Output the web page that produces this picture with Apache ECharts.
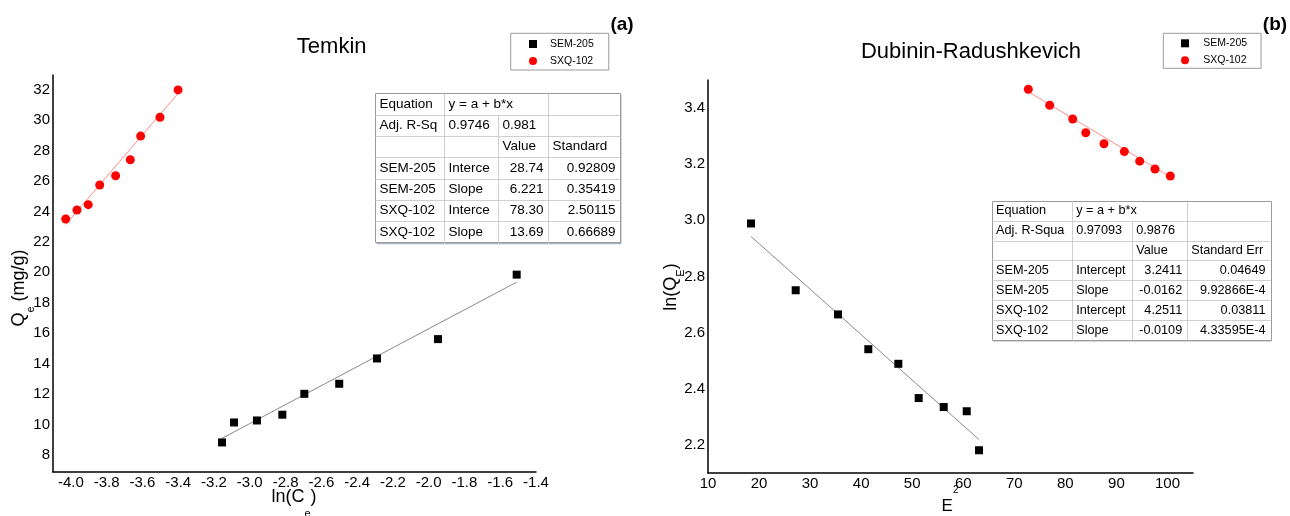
<!DOCTYPE html>
<html>
<head>
<meta charset="utf-8">
<script src="https://cdn.jsdelivr.net/npm/echarts@6/dist/echarts.min.js"></script>
<style>
  html, body { margin: 0; padding: 0; background: #fff; }
  #chart { width: 1290px; height: 516px; }
</style>
</head>
<body>
<div id="chart"></div>
<script>
// ---- Temkin isotherm: Qe (mg/g) against ln(Ce) ----
const temkinSemX = [-3.155, -3.088, -2.960, -2.818, -2.695, -2.500, -2.289, -1.948, -1.508];
const temkinSemY = [8.84, 10.15, 10.28, 10.66, 12.03, 12.69, 14.35, 15.62, 19.85];
const temkinSxqX = [-4.029, -3.966, -3.903, -3.839, -3.750, -3.668, -3.610, -3.502, -3.401];
const temkinSxqY = [23.50, 24.09, 24.44, 25.73, 26.34, 27.39, 28.94, 30.18, 31.97];

// ---- Dubinin-Radushkevich isotherm: ln(QE) against E^2 ----
const drSemX = [18.42, 27.18, 35.47, 41.40, 47.28, 51.27, 56.17, 60.68, 63.08];
const drSemY = [2.989, 2.751, 2.665, 2.541, 2.489, 2.367, 2.335, 2.320, 2.181];
const drSxqX = [72.74, 76.93, 81.44, 83.99, 87.57, 91.55, 94.56, 97.56, 100.56];
const drSxqY = [3.467, 3.410, 3.361, 3.312, 3.273, 3.245, 3.211, 3.183, 3.158];

// ---- linear fit result tables ----
const temkinTable = [
  ['Equation', 'y = a + b*x', '', ''],
  ['Adj. R-Sq', '0.9746', '0.981', ''],
  ['', '', 'Value', 'Standard'],
  ['SEM-205', 'Interce', '28.74', '0.92809'],
  ['SEM-205', 'Slope', '6.221', '0.35419'],
  ['SXQ-102', 'Interce', '78.30', '2.50115'],
  ['SXQ-102', 'Slope', '13.69', '0.66689']
];
const drTable = [
  ['Equation', 'y = a + b*x', '', ''],
  ['Adj. R-Squa', '0.97093', '0.9876', ''],
  ['', '', 'Value', 'Standard Err'],
  ['SEM-205', 'Intercept', '3.2411', '0.04649'],
  ['SEM-205', 'Slope', '-0.0162', '9.92866E-4'],
  ['SXQ-102', 'Intercept', '4.2511', '0.03811'],
  ['SXQ-102', 'Slope', '-0.0109', '4.33595E-4']
];

const seriesNames = ['SEM-205', 'SXQ-102'];
const legendIcons = ['rect', 'circle'];

// fit lines use the intercept / slope printed in the tables
function fitFrom(table, row) {
  return [parseFloat(table[row][2]), parseFloat(table[row + 1][2])];
}
const temkinSemFit = fitFrom(temkinTable, 3);
const temkinSxqFit = fitFrom(temkinTable, 5);
const drSemFit = fitFrom(drTable, 3);
const drSxqFit = fitFrom(drTable, 5);

const FONT = '"Liberation Sans", Arial, Helvetica, sans-serif';

function pairs(xs, ys) { return xs.map((x, i) => [x, ys[i]]); }
function fitLine(xs, fit) {
  const x0 = Math.min(...xs), x1 = Math.max(...xs);
  return [[x0, fit[0] + fit[1] * x0], [x1, fit[0] + fit[1] * x1]];
}

// the axes run on a fine step; only every n-th step carries a label
function stepLabel(step, every, digits) {
  return function (v) {
    const n = Math.round(v / step);
    if (Math.abs(v - n * step) > step * 1e-3) return '';
    if (n % every !== 0) return '';
    return (n * step).toFixed(digits);
  };
}

function valueAxis(gridIndex, min, max, interval, formatter) {
  return {
    type: 'value', gridIndex, min, max, interval, scale: true,
    axisLine: { show: true, onZero: false, lineStyle: { color: '#000', width: 1.5 } },
    axisTick: { show: false },
    splitLine: { show: false },
    axisLabel: { color: '#000', fontSize: 15, fontFamily: FONT, margin: 3, formatter }
  };
}

// table drawn as graphic primitives
function buildTable(rows, cols, top, rowH, fontSize) {
  const els = [];
  const left = cols[0], right = cols[cols.length - 1];
  const h = rowH * rows.length;
  const px = v => Math.round(v) + 0.5;
  els.push({ type: 'rect', silent: true, z: 10,
    shape: { x: left + 1.5, y: top + 1.5, width: right - left, height: h },
    style: { fill: '#a9b1c3' } });
  els.push({ type: 'rect', silent: true, z: 11,
    shape: { x: px(left), y: px(top), width: Math.round(right - left), height: Math.round(h) },
    style: { fill: '#fff', stroke: '#9a9a9a', lineWidth: 1 } });
  for (let r = 1; r < rows.length; r++) {
    const y = px(top + r * rowH);
    els.push({ type: 'line', silent: true, z: 12,
      shape: { x1: px(left), y1: y, x2: px(right), y2: y },
      style: { stroke: '#cfcfcf', lineWidth: 1 } });
  }
  for (let c = 1; c < cols.length - 1; c++) {
    const y0 = c === 2 ? top + rowH : top;
    els.push({ type: 'line', silent: true, z: 12,
      shape: { x1: px(cols[c]), y1: px(y0), x2: px(cols[c]), y2: px(top + h) },
      style: { stroke: '#cfcfcf', lineWidth: 1 } });
  }
  rows.forEach((row, r) => {
    row.forEach((txt, c) => {
      if (!txt) return;
      const rightAlign = c >= 2 && r >= 3;
      const x = rightAlign ? cols[c + 1] - 4.5 : cols[c] + 4.5;
      els.push({ type: 'text', silent: true, z: 13,
        style: { text: txt, x, y: top + (r + 0.5) * rowH,
          align: rightAlign ? 'right' : 'left', verticalAlign: 'middle',
          textAlign: rightAlign ? 'right' : 'left', textVerticalAlign: 'middle',
          font: fontSize + 'px ' + FONT, fill: '#000' } });
    });
  });
  return els;
}

function plainText(text, x, y, size, weight) {
  return { type: 'text', silent: true, z: 20,
    style: { text, x, y, align: 'center', verticalAlign: 'middle',
      textAlign: 'center', textVerticalAlign: 'middle',
      font: (weight || 'normal') + ' ' + size + 'px ' + FONT, fill: '#000' } };
}

function richName(text, x, y, rotation, vAlign, rich) {
  return { type: 'text', silent: true, z: 20, x, y, rotation,
    style: { text, x: 0, y: 0, align: 'center', verticalAlign: vAlign,
      textAlign: 'center', textVerticalAlign: vAlign,
      fontFamily: FONT, fill: '#000', rich } };
}

const nameMain = (size, va) => ({ fontSize: size, lineHeight: 20, verticalAlign: va, fontFamily: FONT, fill: '#000' });
// small index text pushed down (subscript) or up (superscript) with padding
const nameSub = (size, drop) => ({ fontSize: size, verticalAlign: 'top', padding: [drop, 0, 0, 0], fontFamily: FONT, fill: '#000' });
const nameSup = (size, rise) => ({ fontSize: size, verticalAlign: 'bottom', padding: [0, 0, rise, 0], fontFamily: FONT, fill: '#000' });

function legend(left, top, padding, gapText) {
  return {
    left, top, orient: 'vertical',
    padding, itemGap: 4, itemWidth: 8, itemHeight: 8,
    borderColor: '#9a9a9a', borderWidth: 1, backgroundColor: '#fff',
    selectedMode: false,
    textStyle: { fontSize: 10.5, fontFamily: FONT, color: '#000', lineHeight: 13, padding: [0, 0, 0, gapText] },
    data: seriesNames.map((n, i) => ({ name: n, icon: legendIcons[i] }))
  };
}

function fitSeries(name, xi, data, color) {
  return { name, type: 'line', xAxisIndex: xi, yAxisIndex: xi, data,
    symbol: 'none', silent: true, z: 1,
    lineStyle: { color, width: 1 } };
}
function pointSeries(name, xi, data, symbol, size, color) {
  return { name, type: 'scatter', xAxisIndex: xi, yAxisIndex: xi, data,
    symbol, symbolSize: size, z: 3, itemStyle: { color, opacity: 1 } };
}

const chart = echarts.init(document.getElementById('chart'), null, { renderer: 'canvas' });
chart.setOption({
  animation: false,
  backgroundColor: '#fff',
  grid: [
    { left: 53, top: 75, width: 483, height: 397, outerBoundsMode: 'none', containLabel: false },
    { left: 708, top: 80, width: 485, height: 393, outerBoundsMode: 'none', containLabel: false }
  ],
  xAxis: [
    valueAxis(0, -4.1, -1.4, 0.1, stepLabel(0.1, 2, 1)),
    valueAxis(1, 10, 105, 5, stepLabel(5, 2, 0))
  ],
  yAxis: [
    valueAxis(0, 6.9, 32.95, 0.1, stepLabel(0.1, 20, 0)),
    valueAxis(1, 2.1, 3.5, 0.1, stepLabel(0.1, 2, 1))
  ],
  legend: [
    legend(510.7, 33.3, [4.2, 15, 2.5, 18.3], 8),
    legend(1163.3, 33.3, [3.5, 14, 1.5, 17.7], 9.3)
  ],
  series: [
    fitSeries('SEM-205 fit', 0, fitLine(temkinSemX, temkinSemFit), '#8a8a8a'),
    fitSeries('SXQ-102 fit', 0, fitLine(temkinSxqX, temkinSxqFit), '#ff8c8c'),
    pointSeries('SEM-205', 0, pairs(temkinSemX, temkinSemY), 'rect', 8, '#000'),
    pointSeries('SXQ-102', 0, pairs(temkinSxqX, temkinSxqY), 'circle', 9, '#ff0000'),
    fitSeries('SEM-205 fit', 1, fitLine(drSemX, drSemFit), '#8a8a8a'),
    fitSeries('SXQ-102 fit', 1, fitLine(drSxqX, drSxqFit), '#ff8c8c'),
    pointSeries('SEM-205', 1, pairs(drSemX, drSemY), 'rect', 8, '#000'),
    pointSeries('SXQ-102', 1, pairs(drSxqX, drSxqY), 'circle', 9, '#ff0000')
  ],
  graphic: [
    plainText('Temkin', 331.7, 46.7, 22),
    plainText('Dubinin-Radushkevich', 971, 52, 22),
    plainText('(a)', 622, 25, 19, 'bold'),
    plainText('(b)', 1275, 25, 19, 'bold'),
    richName('{n|ln(C}{s|e}{n|)}', 294, 488.5, 0, 'top',
      { n: nameMain(18, 'top'), s: nameSub(11, 19.5) }),
    richName('{n|Q}{s|e}{n| (mg/g)}', 10, 288, Math.PI / 2, 'top',
      { n: nameMain(18, 'top'), s: nameSub(11, 15.5) }),
    richName('{n|ln(Q}{s|E}{n|)}', 662.5, 287, Math.PI / 2, 'top',
      { n: nameMain(18, 'top'), s: nameSub(11, 12.5) }),
    richName('{n|E}{p|2}', 950, 515, 0, 'bottom',
      { n: nameMain(17, 'bottom'), p: nameSup(10, 19.5) }),
    ...buildTable(temkinTable, [375, 444, 498, 548, 620], 93.3, 21.35, 13.5),
    ...buildTable(drTable, [991.5, 1071.7, 1131.7, 1186.7, 1270], 200.7, 19.9, 12.7)
  ]
});
</script>
</body>
</html>
